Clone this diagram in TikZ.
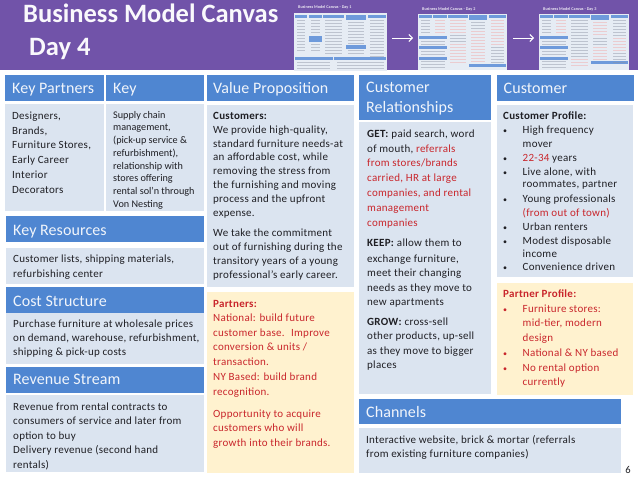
\documentclass[tikz,border=0pt]{standalone}
\usepackage{fontspec}
\setmainfont{Carlito}[LetterSpace=2.5]
\newfontfamily\titlefont{Carlito}[LetterSpace=0]
\newfontfamily\hdrfont{Carlito}[LetterSpace=0.5]
\definecolor{purp}{HTML}{7153A9}
\definecolor{hdrblue}{HTML}{4F86D1}
\definecolor{bodyblue}{HTML}{DBE4F0}
\definecolor{yel}{HTML}{FFF2CF}
\definecolor{redtxt}{HTML}{C9262C}
\definecolor{inktxt}{HTML}{1F1F24}
\definecolor{pinkish}{HTML}{F2A6A6}
\definecolor{greyln}{HTML}{8C93A3}
\definecolor{thumbhdr}{HTML}{6E9ADB}
\usetikzlibrary{arrows.meta}
\newcommand\fb{\rule{0pt}{10pt}}
\newcommand\rd[1]{\textcolor{redtxt}{#1}}
\newcommand\bul{\makebox[19.5pt][l]{\footnotesize •}}
\newcommand\ind{\hspace*{19.5pt}}
\newcommand\panel[5]{\fill[#1] (#2,-#3) rectangle (#4,-#5);}
\newcommand\lines[5]{\foreach \yy in {#3,#4,...,#5}{\fill[#1,opacity=.45] (#2,-\yy) rectangle (\xe,-\yy-1.2);}}
\tikzset{
 hdrlabel/.style={anchor=base west,inner sep=0,text=white!92!hdrblue,font=\hdrfont\fontsize{16}{20}\selectfont,align=left},
 bodytext/.style={anchor=north west,inner sep=0,align=left,text=inktxt,font=\fontsize{11}{14.8}\selectfont},
 smalltext/.style={bodytext,font=\fontsize{10.2}{12.75}\selectfont\addfontfeature{LetterSpace=0}},
 valtext/.style={bodytext,font=\fontsize{11}{13.9}\selectfont},
 titletext/.style={anchor=base west,inner sep=0,text=white!96!purp,font=\titlefont\bfseries\fontsize{26.5}{30}\selectfont},
 thumb/.style={inner sep=0,fill=bodyblue!70!white,anchor=north west},
 thumbarrow/.style={draw=white,line width=1pt,-{Straight Barb[length=3.5pt,width=7pt]}},
 thumbtitle/.style={anchor=base west,inner sep=0,text=white!85!purp,font=\titlefont\bfseries\fontsize{4.2}{5}\selectfont},
}
\begin{document}
\begin{tikzpicture}[x=1pt,y=1pt]
\useasboundingbox (0,0) rectangle (638,-479);
\fill[white] (0,0) rectangle (638,-479);
% title band
\panel{purp}{0}{0}{638}{70}
\node[titletext] (titleA) at (23,-23) {Business Model Canvas};
\node[titletext] (titleB) at (29,-55) {Day 4};
% thumbnail 1
\node[thumb,minimum width=93pt,minimum height=58pt] (t1) at (294,-13) {};
\node[thumbtitle] (t1t) at (298,-9) {Business Model Canvas - Day 1};
\foreach \a/\b/\d/\c in {295/307/14.5/18,309/322/14.5/18,323/344/14.5/18,346/366/14.5/20,368/386/14.5/18,309/322/36/42,346/366/45/49,295/333/57/60,334/386/57/60}{
 \fill[thumbhdr] (\a,-\d) rectangle (\b,-\c);}
\def\xe{305}\lines{greyln}{297}{20}{23}{50}
\def\xe{320}\lines{greyln}{311}{20}{23}{34}\lines{greyln}{311}{44}{47}{52}
\def\xe{342}\lines{greyln}{325}{20}{23}{55}
\def\xe{364}\lines{greyln}{348}{22}{25}{43}\lines{greyln}{348}{50}{53}{55}
\def\xe{384}\lines{greyln}{370}{20}{23}{56}
\def\xe{330}\lines{greyln}{297}{62}{65}{68}
\def\xe{384}\lines{greyln}{337}{62}{65}{68}
% thumbnail 2
\node[thumb,minimum width=89pt,minimum height=56pt] (t2) at (418,-14) {};
\node[thumbtitle] (t2t) at (422,-10.5) {Business Model Canvas - Day 2};
\foreach \a/\b/\d/\c in {419/432/15/18,433/447/15/18,448/468/15/18,469/487/15/20,489/506/15/18,419/447/36/39,419/447/46/49,419/447/57/60,469/506/64/67}{
 \fill[thumbhdr] (\a,-\d) rectangle (\b,-\c);}
\def\xe{430}\lines{greyln}{421}{20}{23}{34}
\def\xe{445}\lines{pinkish}{435}{20}{23}{34}
\def\xe{445}\lines{greyln}{421}{41}{44}{44}\lines{greyln}{421}{51}{54}{54}\lines{greyln}{421}{61}{64}{67}
\def\xe{466}\lines{pinkish}{450}{20}{23}{32}\lines{greyln}{450}{35}{38}{41}\lines{pinkish}{450}{44}{47}{62}
\def\xe{485}\lines{greyln}{471}{22}{25}{28}\lines{pinkish}{471}{31}{34}{61}
\def\xe{504}\lines{pinkish}{491}{20}{23}{44}\lines{greyln}{491}{47}{50}{62}
% thumbnail 3
\node[thumb,minimum width=90pt,minimum height=56pt] (t3) at (539,-14) {};
\node[thumbtitle] (t3t) at (543,-10.5) {Business Model Canvas - Day 3};
\foreach \a/\b/\d/\c in {540/553/15/18,554/568/15/18,569/590/15/18,591/609/15/20,611/628/15/18,540/568/36/39,540/568/46/49,540/568/57/60,591/628/61/64}{
 \fill[thumbhdr] (\a,-\d) rectangle (\b,-\c);}
\def\xe{551}\lines{greyln}{542}{20}{23}{34}
\def\xe{566}\lines{pinkish}{556}{20}{23}{34}
\def\xe{566}\lines{greyln}{542}{41}{44}{44}\lines{greyln}{542}{51}{54}{54}\lines{greyln}{542}{61}{64}{67}
\def\xe{588}\lines{greyln}{571}{20}{23}{56}\lines{pinkish}{571}{59}{62}{65}
\def\xe{607}\lines{pinkish}{593}{22}{25}{35}\lines{greyln}{593}{38}{41}{44}\lines{pinkish}{593}{47}{50}{59}
\def\xe{626}\lines{greyln}{613}{20}{23}{35}\lines{pinkish}{613}{38}{41}{50}\lines{greyln}{613}{53}{56}{62}
% arrows
\coordinate (a1s) at (392,-38); \coordinate (a1e) at (413,-38);
\coordinate (a2s) at (513,-38); \coordinate (a2e) at (534,-38);
\draw[thumbarrow] (a1s) -- (a1e);
\draw[thumbarrow] (a2s) -- (a2e);
% panels
\panel{hdrblue}{5}{75}{104}{101}
\panel{hdrblue}{106}{75}{204}{101}
\panel{hdrblue}{206.5}{75}{354}{101}
\panel{hdrblue}{359}{75}{491}{120}
\panel{hdrblue}{497}{75}{634}{101}
\panel{bodyblue}{5}{104}{104}{211}
\panel{bodyblue}{106}{104}{204}{211}
\panel{bodyblue}{206.5}{105}{354}{287}
\panel{yel}{206.5}{292}{354}{473}
\panel{bodyblue}{359}{122}{491}{394}
\panel{bodyblue}{497}{105}{633}{277}
\panel{yel}{497}{283}{633}{395}
\panel{hdrblue}{6}{216}{204}{242}
\panel{bodyblue}{6}{248}{204}{284}
\panel{hdrblue}{6}{287}{204}{313}
\panel{bodyblue}{6}{313}{204}{364}
\panel{hdrblue}{6}{367}{204}{393}
\panel{bodyblue}{6}{395}{204}{472}
\panel{hdrblue}{359}{399}{621}{424}
\panel{bodyblue}{359}{428}{621}{473}
% headers
\node[hdrlabel] (hKP) at (12,-93) {Key Partners};
\node[hdrlabel] (hK) at (113,-93) {Key};
\node[hdrlabel] (hVP) at (213,-93) {Value Proposition};
\node[hdrlabel,anchor=north west] (hCR) at (366,-82) {Customer\\Relationships};
\node[hdrlabel] (hC) at (503.5,-93) {Customer};
\node[hdrlabel] (hKR) at (13,-235) {Key Resources};
\node[hdrlabel] (hCS) at (13,-306) {Cost Structure};
\node[hdrlabel] (hRS) at (13,-384.5) {Revenue Stream};
\node[hdrlabel] (hCh) at (366,-417) {Channels};
% bodies
\node[bodytext] (bKP) at (12,-109) {\fb Designers,\\Brands,\\Furniture Stores,\\Early Career\\Interior\\Decorators};
\node[smalltext] (bK) at (113,-108) {\fb Supply chain\\management,\\(pick-up service \&\\refurbishment),\\relationship with\\stores offering\\rental sol’n through\\Von Nesting};
\node[valtext] (bVP) at (213,-109) {\fb\textbf{Customers:}\\We provide high-quality,\\standard furniture needs-at\\an affordable cost, while\\removing the stress from\\the furnishing and moving\\process and the upfront\\expense.\\[6pt]We take the commitment\\out of furnishing during the\\transitory years of a young\\professional’s early career.};
\node[valtext,text=redtxt,font=\fontsize{11}{14.8}\selectfont] (bPa) at (213,-297) {\fb\textbf{Partners:}\\[-.8pt]National: build future\\customer base.~ Improve\\conversion \& units /\\transaction.\\NY Based: build brand\\recognition.\\[7pt]Opportunity to acquire\\customers who will\\growth into their brands.};
\node[bodytext] (bKR) at (13,-252) {\fb Customer lists, shipping materials,\\refurbishing center};
\node[valtext] (bCS) at (13,-317) {\fb Purchase furniture at wholesale prices\\on demand, warehouse, refurbishment,\\shipping \& pick-up costs};
\node[bodytext] (bRS) at (13,-400) {\fb Revenue from rental contracts to\\[-.8pt]consumers of service and later from\\option to buy\\Delivery revenue (second hand\\rentals)};
\node[bodytext] (bCR) at (367,-127) {\fb\textbf{GET:} paid search, word\\of mouth, \rd{referrals}\\\rd{from stores/brands}\\\rd{carried, HR at large}\\\rd{companies, and rental}\\\rd{management}\\\rd{companies}\\[5.4pt]\textbf{KEEP:} allow them to\\[1.2pt]exchange furniture,\\[-.8pt]meet their changing\\needs as they move to\\[-.8pt]new apartments\\[5.2pt]\textbf{GROW:} cross-sell\\other products, up-sell\\as they move to bigger\\[-.8pt]places};
\node[valtext] (bC) at (503,-109) {\fb\textbf{Customer Profile:}\\[.8pt]\bul High frequency\\\ind mover\\\bul\rd{22-34} years\\\bul Live alone, with\\[-2pt]\ind roommates, partner\\[1pt]\bul Young professionals\\\ind\rd{(from out of town)}\\\bul Urban renters\\\bul Modest disposable\\[-1pt]\ind income\\\bul Convenience driven};
\node[bodytext,text=redtxt] (bPP) at (503,-287) {\fb\textbf{Partner Profile:}\\\bul Furniture stores:\\\ind mid-tier, modern\\\ind design\\\bul National \& NY based\\\bul No rental option\\[-.8pt]\ind currently};
\node[bodytext] (bCh) at (366,-433) {\fb Interactive website, brick \& mortar (referrals\\[-.8pt]from existing furniture companies)};
\node[anchor=base east,inner sep=0,text=inktxt,font=\fontsize{10.5}{12}\selectfont] (pg) at (631,-473) {6};
\end{tikzpicture}
\end{document}
